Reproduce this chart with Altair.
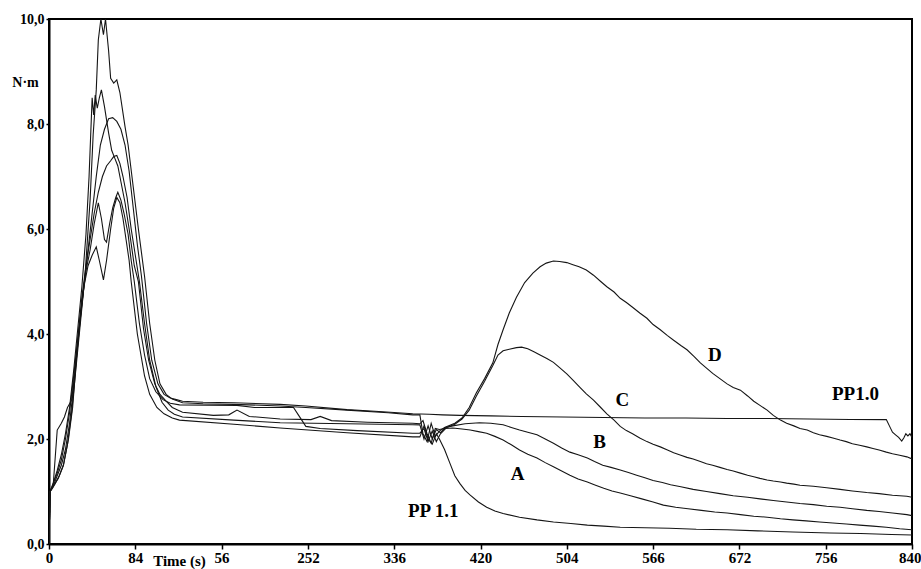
import altair as alt
import pandas as pd

# ---------------- data ----------------
X_TICKS = [0, 84, 168, 252, 336, 420, 504, 588, 672, 756, 840]
X_TICK_LABELS = ["0", "84", "56", "252", "336", "420", "504", "566", "672", "756", "840"]
Y_TICKS = [0, 2, 4, 6, 8, 10]

PP10 = [(0, 0), (1, 1.0), (3, 1.05), (6, 1.15), (10, 1.3), (14, 1.5), (18, 1.9), (22, 2.5), (26, 3.3),
        (30, 4.1), (34, 4.9), (38, 5.6), (42, 6.3), (46, 7.0), (50, 7.6), (54, 7.9), (58, 8.1), (62, 8.12),
        (66, 8.05), (70, 7.9), (74, 7.6), (78, 7.1), (82, 6.4), (86, 5.7), (90, 5.1), (95, 4.2), (100, 3.5),
        (106, 3.05), (112, 2.85), (118, 2.78), (124, 2.75), (130, 2.72), (150, 2.7), (180, 2.69), (225, 2.66),
        (250, 2.63), (290, 2.56), (325, 2.52), (354, 2.48), (370, 2.47), (383, 2.46), (400, 2.45), (430, 2.44),
        (460, 2.43), (500, 2.42), (540, 2.41), (580, 2.4), (620, 2.4), (660, 2.39), (700, 2.39), (740, 2.38),
        (780, 2.37), (815, 2.37), (818, 2.25), (821, 2.13), (824, 2.08), (827, 2.03), (830, 1.96), (832, 2.02),
        (834, 2.1), (836, 2.06), (838, 2.1), (840, 2.03)]

D = [(0, 0), (1, 1.0), (4, 1.1), (9, 1.25), (14, 1.5), (19, 2.0), (23, 2.6), (27, 3.6), (31, 4.4), (35, 5.1),
     (40, 6.55), (43, 7.8), (46, 8.65), (48, 9.6), (50.5, 10.0), (53, 9.7), (55, 10.0), (58, 9.4), (60, 8.87),
     (63, 8.78), (66, 8.84), (69, 8.6), (74, 7.95), (77, 7.6), (82, 6.8), (87, 6.0), (93, 5.1), (98, 4.2),
     (103, 3.5), (108, 3.05), (114, 2.85), (120, 2.76), (130, 2.69), (150, 2.67), (180, 2.66), (225, 2.63),
     (250, 2.6), (290, 2.55), (330, 2.5), (354, 2.46), (361, 2.46), (364, 2.1), (368, 1.95), (372, 2.3),
     (376, 2.05), (380, 2.15), (385, 2.22), (395, 2.3), (402, 2.4), (409, 2.6), (416, 2.88), (424, 3.15),
     (432, 3.45), (437, 3.8), (442, 4.08), (448, 4.4), (455, 4.7), (463, 4.98), (471, 5.16), (478, 5.28),
     (484, 5.35), (491, 5.39), (497, 5.38), (504, 5.36), (510, 5.32), (516, 5.28), (523, 5.22), (530, 5.12),
     (537, 5.0), (543, 4.9), (550, 4.8), (556, 4.68), (562, 4.6), (568, 4.51), (575, 4.4), (582, 4.3),
     (588, 4.18), (595, 4.08), (602, 3.97), (608, 3.88), (615, 3.78), (621, 3.7), (628, 3.57), (634, 3.45),
     (640, 3.35), (646, 3.25), (653, 3.15), (660, 3.05), (666, 2.98), (673, 2.93), (680, 2.82), (686, 2.72),
     (692, 2.64), (699, 2.55), (705, 2.45), (712, 2.36), (718, 2.3), (725, 2.25), (731, 2.2), (738, 2.17),
     (744, 2.12), (750, 2.08), (757, 2.05), (763, 2.02), (770, 1.98), (776, 1.95), (782, 1.91), (789, 1.88),
     (796, 1.85), (802, 1.82), (808, 1.79), (815, 1.75), (821, 1.72), (828, 1.69), (835, 1.66), (840, 1.62)]

C = [(0, 0), (1, 1.0), (4, 1.15), (8, 1.4), (12, 1.7), (16, 2.1), (20, 2.6), (24, 3.3), (28, 4.1), (32, 4.9),
     (36, 5.9), (39, 7.0), (42, 8.5), (43.5, 8.17), (45, 8.55), (47, 8.3), (49, 8.5), (51, 8.65), (54, 8.33),
     (58, 7.83), (61, 7.5), (64, 7.35), (67, 7.2), (70, 6.9), (74, 6.5), (78, 6.0), (83, 5.3), (87, 5.0),
     (92, 4.1), (97, 3.5), (103, 3.05), (108, 2.85), (114, 2.72), (120, 2.6), (130, 2.51), (160, 2.45),
     (175, 2.46), (183, 2.55), (195, 2.43), (225, 2.38), (255, 2.37), (264, 2.43), (275, 2.35), (310, 2.32),
     (354, 2.3), (361, 2.29), (364, 2.35), (368, 2.1), (372, 1.92), (376, 2.2), (380, 2.18), (385, 2.2),
     (395, 2.28), (402, 2.38), (409, 2.55), (416, 2.82), (424, 3.1), (432, 3.4), (437, 3.6), (442, 3.68),
     (448, 3.71), (455, 3.74), (460, 3.75), (466, 3.72), (472, 3.66), (478, 3.6), (485, 3.53), (491, 3.46),
     (497, 3.36), (504, 3.24), (510, 3.12), (517, 2.98), (523, 2.86), (530, 2.74), (537, 2.6), (543, 2.48),
     (550, 2.36), (556, 2.24), (562, 2.16), (568, 2.1), (575, 2.02), (582, 1.95), (588, 1.9), (595, 1.85),
     (602, 1.79), (608, 1.74), (615, 1.69), (621, 1.65), (627, 1.62), (634, 1.57), (640, 1.53), (646, 1.5),
     (653, 1.46), (660, 1.42), (666, 1.39), (673, 1.35), (680, 1.31), (686, 1.28), (692, 1.25), (699, 1.22),
     (705, 1.2), (712, 1.18), (718, 1.16), (725, 1.14), (731, 1.12), (744, 1.1), (757, 1.07), (770, 1.04),
     (782, 1.01), (796, 0.98), (808, 0.96), (821, 0.93), (835, 0.91), (840, 0.89)]

B = [(0, 0), (1, 1.0), (4, 1.1), (8, 1.3), (12, 1.5), (16, 1.8), (20, 2.3), (24, 3.0), (28, 3.9), (32, 4.7),
     (36, 5.3), (40, 5.8), (44, 6.3), (48, 6.7), (52, 7.0), (56, 7.2), (60, 7.3), (63, 7.38), (66, 7.4),
     (69, 7.25), (72, 7.0), (76, 6.6), (80, 6.0), (84, 5.5), (88, 5.0), (93, 4.2), (98, 3.5), (104, 3.0),
     (110, 2.7), (116, 2.55), (122, 2.47), (130, 2.42), (180, 2.36), (225, 2.31), (290, 2.29), (354, 2.27),
     (361, 2.27), (365, 2.0), (369, 2.25), (373, 2.0), (377, 2.18), (381, 2.12), (386, 2.22), (393, 2.25),
     (405, 2.29), (419, 2.31), (430, 2.3), (442, 2.27), (450, 2.22), (458, 2.17), (466, 2.13), (475, 2.08),
     (483, 2.0), (491, 1.92), (499, 1.83), (507, 1.75), (515, 1.7), (524, 1.64), (531, 1.57), (539, 1.5),
     (547, 1.46), (556, 1.41), (564, 1.36), (572, 1.31), (580, 1.26), (588, 1.21), (597, 1.17), (605, 1.13),
     (615, 1.09), (627, 1.04), (640, 1.0), (653, 0.96), (666, 0.92), (680, 0.89), (692, 0.86), (705, 0.83),
     (718, 0.8), (731, 0.77), (744, 0.75), (757, 0.72), (770, 0.7), (782, 0.67), (796, 0.64), (808, 0.62),
     (821, 0.59), (835, 0.56), (840, 0.54)]

A = [(0, 0), (1, 1.0), (4, 1.15), (8, 1.35), (12, 1.6), (16, 2.0), (20, 2.5), (24, 3.2), (28, 3.9), (32, 4.6),
     (36, 5.2), (40, 5.6), (44, 6.1), (48, 6.5), (51, 6.2), (54, 5.8), (56, 5.75), (59, 6.1), (62, 6.4),
     (65, 6.6), (67, 6.7), (70, 6.55), (73, 6.3), (77, 5.9), (80, 5.4), (83, 5.0), (88, 4.2), (93, 3.6),
     (98, 3.15), (104, 2.9), (111, 2.75), (118, 2.68), (127, 2.65), (183, 2.64), (200, 2.6), (238, 2.6),
     (243, 2.45), (250, 2.24), (264, 2.2), (300, 2.16), (354, 2.11), (361, 2.11), (365, 2.2), (369, 1.95),
     (373, 2.15), (377, 1.95), (381, 2.1), (386, 2.2), (393, 2.21), (402, 2.19), (410, 2.17), (418, 2.14),
     (426, 2.11), (434, 2.05), (442, 1.98), (450, 1.89), (458, 1.79), (466, 1.71), (475, 1.64), (483, 1.55),
     (491, 1.47), (499, 1.39), (507, 1.31), (515, 1.24), (524, 1.18), (532, 1.12), (540, 1.06), (548, 1.01),
     (556, 0.97), (566, 0.92), (577, 0.86), (588, 0.8), (598, 0.74), (610, 0.7), (622, 0.67), (635, 0.64),
     (648, 0.61), (660, 0.59), (673, 0.56), (686, 0.53), (699, 0.51), (712, 0.48), (724, 0.46), (737, 0.44),
     (750, 0.42), (763, 0.4), (776, 0.38), (789, 0.36), (802, 0.34), (815, 0.32), (828, 0.29), (840, 0.27)]

PP11 = [(0, 0), (1, 1.0), (4, 1.1), (8, 2.17), (12, 2.3), (15, 2.42), (18, 2.6), (22, 2.74), (26, 3.4),
        (30, 4.2), (34, 4.9), (38, 5.3), (42, 5.5), (46, 5.66), (49, 5.4), (53, 5.03), (56, 5.4), (60, 6.0),
        (63, 6.4), (66, 6.6), (69, 6.5), (72, 6.2), (75, 5.8), (78, 5.4), (80, 5.0), (86, 4.0), (93, 3.2),
        (98, 2.85), (105, 2.6), (112, 2.48), (120, 2.4), (127, 2.36), (180, 2.28), (225, 2.21), (290, 2.12),
        (354, 2.04), (361, 2.04), (365, 2.25), (369, 2.0), (373, 1.9), (377, 2.1), (380, 2.0), (385, 1.8),
        (390, 1.55), (395, 1.3), (400, 1.15), (405, 1.02), (410, 0.93), (418, 0.8), (426, 0.7), (434, 0.63),
        (442, 0.58), (458, 0.51), (475, 0.46), (491, 0.42), (508, 0.39), (524, 0.36), (540, 0.34), (556, 0.32),
        (580, 0.31), (604, 0.3), (630, 0.28), (660, 0.27), (690, 0.25), (724, 0.23), (760, 0.21), (790, 0.2),
        (820, 0.18), (840, 0.17)]

SERIES = {"PP1.0": PP10, "D": D, "C": C, "B": B, "A": A, "PP 1.1": PP11}

LABEL_TEXT = ["PP 1.1", "A", "B", "C", "D", "PP1.0"]
LABEL_T = [374, 456, 536, 558, 648, 785]
LABEL_V = [0.62, 1.34, 1.94, 2.74, 3.6, 2.86]

# ---------------- build tables ----------------
rows = []
for name, pts in SERIES.items():
    for i, (t, v) in enumerate(pts):
        rows.append({"series": name, "t": t, "v": v, "i": i})
df = pd.DataFrame(rows)
labels_df = pd.DataFrame({"text": LABEL_TEXT, "t": LABEL_T, "v": LABEL_V})

x_expr = "".join(
    f"datum.value == {v} ? '{l}' : " for v, l in zip(X_TICKS, X_TICK_LABELS)
) + "datum.label"
last_tick = X_TICKS[-1]

FONT = "Liberation Serif"

x_scale = alt.Scale(domain=[0, 840], nice=False, zero=False)
y_scale = alt.Scale(domain=[0, 10], nice=False)

lines = alt.Chart(df).mark_line(strokeWidth=1.1, color="#151515", clip=True).encode(
    x=alt.X("t:Q", scale=x_scale,
            axis=alt.Axis(values=X_TICKS, labelExpr=x_expr, title="Time (s)", grid=False,
                          tickSize=5, labelPadding=1, labelFontSize=15,
                          labelAlign={"condition": {"test": f"datum.value == {last_tick}", "value": "right"},
                                      "value": "center"},
                          labelOffset={"condition": {"test": f"datum.value == {last_tick}", "value": 9},
                                       "value": 0},
                          titleX=130, titleY=21, titleAlign="center", titleBaseline="alphabetic",
                          titleFontSize=15, labelFlush=False)),
    y=alt.Y("v:Q", scale=y_scale,
            axis=alt.Axis(values=Y_TICKS, labelExpr="replace(format(datum.value, '.1f'), '.', ',')",
                          title="N·m", titleAngle=0, grid=False, tickSize=3, labelPadding=2,
                          labelFontSize=14, titleX=-24, titleY=63, titleAlign="center",
                          titleBaseline="middle", titleFontSize=14)),
    detail="series:N",
    order="i:Q",
)

texts = alt.Chart(labels_df).mark_text(font=FONT, fontWeight="bold", fontSize=19, color="black").encode(
    x=alt.X("t:Q", scale=x_scale),
    y=alt.Y("v:Q", scale=y_scale),
    text="text:N",
)

chart = (lines + texts).properties(
    width=863, height=525,
    padding={"left": 49, "top": 19, "right": 9, "bottom": 25},
    autosize=alt.AutoSizeParams(type="none"),
    background="white",
).configure_view(
    stroke="black", strokeWidth=2
).configure_axis(
    labelFont=FONT, labelFontWeight="bold", labelColor="black",
    titleFont=FONT, titleFontWeight="bold", titleColor="black",
    domainColor="black", domainWidth=2, tickColor="black", tickWidth=1.5,
)

chart.save("out.html", embed_options={"renderer": "svg", "actions": False})
